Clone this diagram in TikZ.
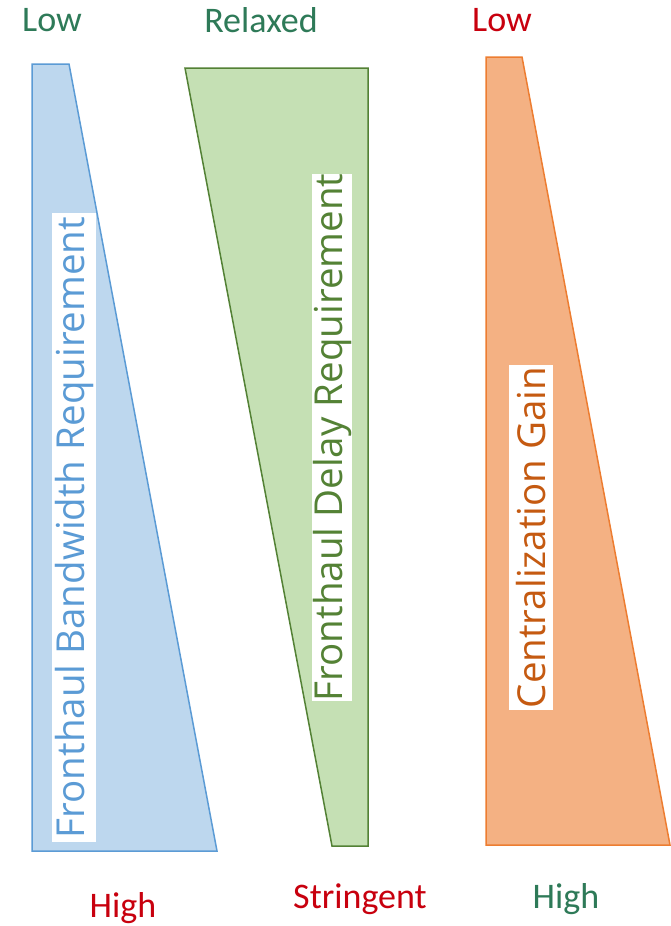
\documentclass[tikz,border=0pt]{standalone}
\usepackage{fontspec}
\setmainfont{Carlito}
\newfontfamily\vfont{Open Sans}
\definecolor{bfill}{HTML}{BDD7EE}
\definecolor{bline}{HTML}{5B9BD5}
\definecolor{gfill}{HTML}{C5E0B4}
\definecolor{gline}{HTML}{538135}
\definecolor{gtext}{HTML}{548235}
\definecolor{ofill}{HTML}{F4B183}
\definecolor{oline}{HTML}{ED7D31}
\definecolor{otext}{HTML}{C55A11}
\definecolor{lgreen}{HTML}{2E7A58}
\definecolor{lred}{HTML}{C8000E}
\begin{document}
\begin{tikzpicture}[x=1pt,y=-1pt,
  lbl/.style={font=\fontsize{36}{40}\selectfont, inner sep=0pt},
  vbox/.style={fill=white, rotate=90, inner sep=0pt, font=\vfont\fontsize{38.5}{42}\selectfont},
  shp/.style={line width=1.5pt, line join=miter}]
\useasboundingbox (0,0) rectangle (671,926);
\fill[white] (0,0) rectangle (671,926);
% shapes
\draw[shp, draw=bline, fill=bfill] (32,64) -- (69,64) -- (217,851) -- (32,851) -- cycle;
\draw[shp, draw=gline, fill=gfill] (185,68) -- (368,68) -- (368,846) -- (332,846) -- cycle;
\draw[shp, draw=oline, fill=ofill] (486,57) -- (522,57) -- (670,845) -- (486,845) -- cycle;
% vertical labels
\node[vbox, text=bline, minimum width=629, minimum height=44] (bt) at (74,527.5) {Fronthaul Bandwidth Requirement};
\node[vbox, text=gtext, minimum width=525, minimum height=40] (gt) at (332,437.5) {Fronthaul Delay Requirement};
\node[vbox, text=otext, minimum width=345, minimum height=44] (ot) at (531,537.5) {Centralization Gain};
% end labels
\node[lbl, text=lgreen] (l1) at (52,20) {Low};
\node[lbl, text=lgreen] (l2) at (261,20) {Relaxed};
\node[lbl, text=lred] (l3) at (502,20) {Low};
\node[lbl, text=lred] (h1) at (123,908) {High};
\node[lbl, text=lred] (h2) at (360,899) {Stringent};
\node[lbl, text=lgreen] (h3) at (566,899) {High};
\end{tikzpicture}
\end{document}
